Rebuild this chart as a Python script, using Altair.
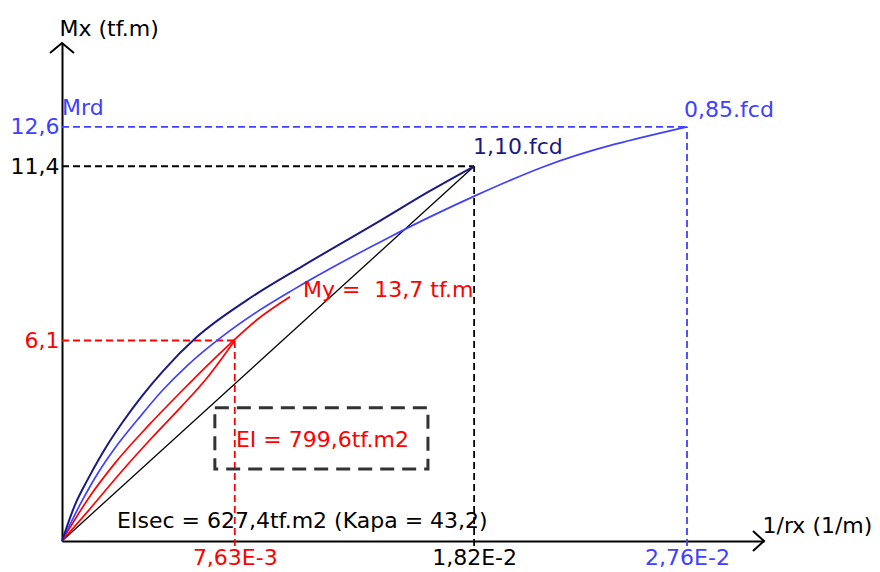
import altair as alt
import pandas as pd

FONT = "DejaVu Sans"
FS = 22
NAVY = "#1a1a82"
BLUE = "#4040ff"
RED = "#ff0000"

# Moment-curvature curves: curvature 1/rx (1/m) and moment Mx (tf.m)
navy_k = [0, 0.000574, 0.00115, 0.00159, 0.00203, 0.00265, 0.00353, 0.00446,
          0.00596, 0.00817, 0.01064, 0.01404, 0.01625, 0.0182]
navy_m = [0, 1.10, 1.89, 2.44, 2.95, 3.59, 4.41, 5.17,
          6.21, 7.33, 8.37, 9.74, 10.65, 11.4]

blue_k = [0, 0.000883, 0.00159, 0.00234, 0.00336, 0.00442, 0.00552, 0.00711,
          0.00861, 0.0102, 0.01183, 0.01448, 0.01625, 0.01833, 0.02124, 0.0276]
blue_m = [0, 1.22, 2.07, 2.83, 3.71, 4.57, 5.33, 6.24,
          6.97, 7.64, 8.28, 9.25, 9.86, 10.53, 11.38, 12.6]

red_up_k = [0, 0.00115, 0.00234, 0.0038, 0.0053, 0.0064, 0.00742, 0.00861, 0.01007]
red_up_m = [0, 1.28, 2.37, 3.50, 4.57, 5.33, 6.0, 6.73, 7.43]

red_lo_k = [0, 0.00115, 0.00265, 0.00397, 0.0053, 0.0064, 0.0072, 0.00763]
red_lo_m = [0, 0.91, 2.13, 3.14, 4.11, 4.96, 5.69, 6.1]

# secant stiffness line (EIsec)
sec_k = [0, 0.0182]
sec_m = [0, 11.4]

# reference points: (curvature, moment, colour)
ref_k = [0.0276, 0.0182, 0.00763]
ref_m = [12.6, 11.4, 6.1]
ref_c = [BLUE, "black", RED]

# annotations
ann_text = ["Mrd", "1,10.fcd", "0,85.fcd", "My =\u00a0 13,7 tf.m",
            "EI = 799,6tf.m2", "EIsec = 627,4tf.m2 (Kapa = 43,2)"]
ann_k = [0.0, 0.01815, 0.02747, 0.01064, 0.00768, 0.00243]
ann_m = [13.18, 12.0, 13.12, 7.64, 3.07, 0.62]
ann_c = [BLUE, NAVY, BLUE, RED, RED, "black"]

# framed box around the EI label
box_k = [0.00675, 0.01616]
box_m = [2.19, 4.05]

X_MAX = 0.031
Y_MAX = 15.15

xs = alt.Scale(domain=[0, X_MAX], nice=False, zero=False)
ys = alt.Scale(domain=[0, Y_MAX], nice=False, zero=False)

x_axis = alt.Axis(
    values=ref_k[::-1],
    labelExpr="replace(replace(format(datum.value, '.2e'), '.', ','), 'e', 'E')",
    labelColor={"condition": [{"test": "datum.value < 0.01", "value": RED},
                              {"test": "datum.value > 0.02", "value": BLUE}],
                "value": "black"},
    grid=False, ticks=False, domainColor="black", domainWidth=2,
    labelFont=FONT, labelFontSize=FS, labelPadding=6,
    title="1/rx (1/m)", titleFont=FONT, titleFontSize=FS, titleFontWeight="normal",
    titleAlign="left", titleBaseline="middle", titleX=700, titleY=-16,
    titleColor="black",
)
y_axis = alt.Axis(
    values=ref_m[::-1],
    labelExpr="replace(format(datum.value, '.1f'), '.', ',')",
    labelColor={"condition": [{"test": "datum.value < 7", "value": RED},
                              {"test": "datum.value > 12", "value": BLUE}],
                "value": "black"},
    grid=False, ticks=False, domainColor="black", domainWidth=2,
    labelFont=FONT, labelFontSize=FS, labelPadding=3,
    title="Mx (tf.m)", titleFont=FONT, titleFontSize=FS, titleFontWeight="normal",
    titleAngle=0, titleAlign="left", titleBaseline="middle", titleX=-3, titleY=-15,
    titleColor="black",
)


def X(field="k", axis=True):
    return alt.X(f"{field}:Q", scale=xs, axis=x_axis if axis else None)


def Y(field="m", axis=True):
    return alt.Y(f"{field}:Q", scale=ys, axis=y_axis if axis else None)


# dashed guide lines from each reference point to both axes
rows = []
for k, m, c in zip(ref_k, ref_m, ref_c):
    rows.append({"k": 0.0, "k2": k, "m": m, "m2": m, "c": c})
    rows.append({"k": k, "k2": k, "m": -0.15, "m2": m, "c": c})
guides = pd.DataFrame(rows)

guide_layer = alt.Chart(guides).mark_rule(strokeDash=[7, 4], strokeWidth=1.8).encode(
    x=X(), x2="k2:Q", y=Y(), y2="m2:Q",
    color=alt.Color("c:N", scale=None),
)


def curve(ks, ms, color, width):
    df = pd.DataFrame({"k": ks, "m": ms})
    return alt.Chart(df).mark_line(color=color, strokeWidth=width, interpolate="monotone").encode(
        x=X(), y=Y()
    )


sec_layer = curve(sec_k, sec_m, "black", 1.3)
red_lo_layer = curve(red_lo_k, red_lo_m, RED, 1.7)
red_up_layer = curve(red_up_k, red_up_m, RED, 1.7)
blue_layer = curve(blue_k, blue_m, BLUE, 1.7)
navy_layer = curve(navy_k, navy_m, NAVY, 2.0)

box_df = pd.DataFrame({"k": [box_k[0]], "k2": [box_k[1]], "m": [box_m[0]], "m2": [box_m[1]]})
box_layer = alt.Chart(box_df).mark_rect(
    filled=False, stroke="#333333", strokeWidth=3, strokeDash=[14, 8]
).encode(x=X(), x2="k2:Q", y=Y(), y2="m2:Q")

ann_df = pd.DataFrame({"t": ann_text, "k": ann_k, "m": ann_m, "c": ann_c})
text_layer = alt.Chart(ann_df).mark_text(
    font=FONT, fontSize=FS, align="left", baseline="middle"
).encode(x=X(), y=Y(), text="t:N", color=alt.Color("c:N", scale=None))

# arrow heads at the ends of both axes
arrow_y = alt.Chart(pd.DataFrame({"k": [0.0], "m": [Y_MAX]})).mark_point(
    shape="M -1 0.83 L 0 0 L 1 0.83", size=576, filled=False,
    stroke="black", strokeWidth=2, opacity=1
).encode(x=X(), y=Y())
arrow_x = alt.Chart(pd.DataFrame({"k": [X_MAX], "m": [0.0]})).mark_point(
    shape="M -1.1 -1 L 0 0 L -1.1 1", size=400, filled=False,
    stroke="black", strokeWidth=2, opacity=1
).encode(x=X(), y=Y())

chart = alt.layer(
    guide_layer, sec_layer, red_lo_layer, red_up_layer, blue_layer, navy_layer,
    box_layer, text_layer, arrow_y, arrow_x
).properties(
    width=702, height=498,
    autosize=alt.AutoSizeParams(type="none"),
    padding={"left": 62, "top": 43, "right": 116, "bottom": 31},
    background="white",
).configure_view(stroke=None)

chart.save("out.html", embed_options={"renderer": "svg", "actions": False})
